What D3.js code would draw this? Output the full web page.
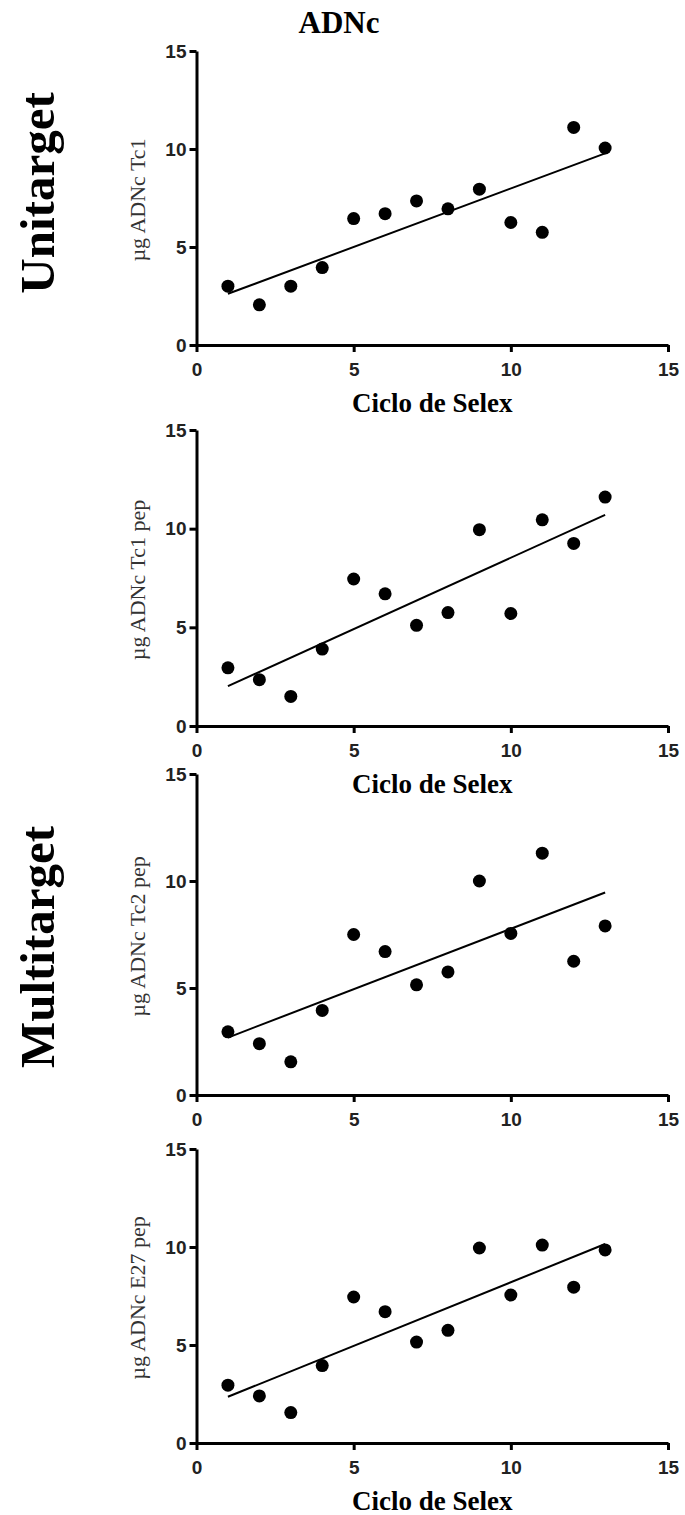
<!DOCTYPE html>
<html>
<head>
<meta charset="utf-8">
<script src="https://cdn.jsdelivr.net/npm/d3@7"></script>
<style>
  html, body { margin: 0; padding: 0; background: #fff; }
  svg { display: block; }
  .tick text { font-family: 'Liberation Sans', Arial, sans-serif; font-weight: bold; fill: #222; }
</style>
</head>
<body>
<svg id="chart" width="685" height="1515"></svg>
<script>
const CYCLES = [1, 2, 3, 4, 5, 6, 7, 8, 9, 10, 11, 12, 13]
const TC1 = [3.0, 2.05, 3.0, 3.95, 6.45, 6.7, 7.35, 6.95, 7.95, 6.25, 5.75, 11.1, 10.05]
const TC1_PEP = [2.95, 2.35, 1.5, 3.9, 7.45, 6.7, 5.1, 5.75, 9.95, 5.7, 10.45, 9.25, 11.6]
const TC2_PEP = [2.95, 2.4, 1.55, 3.95, 7.5, 6.7, 5.15, 5.75, 10.0, 7.55, 11.3, 6.25, 7.9]
const E27_PEP = [2.95, 2.4, 1.55, 3.95, 7.45, 6.7, 5.15, 5.75, 9.95, 7.55, 10.1, 7.95, 9.85]
const X_TICKS = [0, 5, 10, 15]
const Y_TICKS = [0, 5, 10, 15]
const Y_LABELS = ['µg ADNc Tc1', 'µg ADNc Tc1 pep', 'µg ADNc Tc2 pep', 'µg ADNc E27 pep']
const SERIES = [TC1, TC1_PEP, TC2_PEP, E27_PEP]

// vertical placement of each panel (top = 15, bottom = 0)
const PANEL_BOX = [
  { top: 51, bottom: 345, xlabel: true },
  { top: 430, bottom: 726, xlabel: true },
  { top: 774, bottom: 1095, xlabel: false },
  { top: 1149, bottom: 1443, xlabel: true }
]
const LEFT = 196.5
const RIGHT = 668

const svg = d3.select('#chart')

function fit (xs, ys) {
  const mx = d3.mean(xs)
  const my = d3.mean(ys)
  const sxy = d3.sum(xs, (x, i) => (x - mx) * (ys[i] - my))
  const sxx = d3.sum(xs, x => (x - mx) * (x - mx))
  const slope = sxy / sxx
  return x => my + slope * (x - mx)
}

function panel (values, box, ylabel) {
  const x = d3.scaleLinear().domain([0, 15]).range([LEFT, RIGHT])
  const y = d3.scaleLinear().domain([0, 15]).range([box.bottom, box.top])
  const g = svg.append('g')

  const yAxis = g.append('g')
    .attr('transform', `translate(${LEFT},0)`)
    .call(d3.axisLeft(y).tickValues(Y_TICKS).tickSize(7).tickSizeOuter(0).tickPadding(3))
  const xAxis = g.append('g')
    .attr('transform', `translate(0,${box.bottom})`)
    .call(d3.axisBottom(x).tickValues(X_TICKS).tickSize(7).tickSizeOuter(0).tickPadding(11))

  for (const ax of [yAxis, xAxis]) {
    ax.select('.domain').attr('stroke', '#000').attr('stroke-width', 3)
    ax.selectAll('.tick line').attr('stroke', '#000').attr('stroke-width', 3)
    ax.selectAll('.tick text').attr('font-size', 19)
  }

  const line = fit(CYCLES, values)
  g.append('line')
    .attr('x1', x(CYCLES[0])).attr('y1', y(line(CYCLES[0])))
    .attr('x2', x(CYCLES[CYCLES.length - 1])).attr('y2', y(line(CYCLES[CYCLES.length - 1])))
    .attr('stroke', '#000')
    .attr('stroke-width', 2)

  g.selectAll('circle')
    .data(values)
    .enter().append('circle')
    .attr('cx', (d, i) => x(CYCLES[i]))
    .attr('cy', d => y(d))
    .attr('r', 6.5)
    .attr('fill', '#000')

  g.append('text')
    .attr('transform', `translate(145,${(box.top + box.bottom) / 2 + 2}) rotate(-90)`)
    .attr('text-anchor', 'middle')
    .attr('font-family', "'Liberation Serif', 'Times New Roman', serif")
    .attr('font-size', 22)
    .attr('fill', '#333')
    .text(ylabel)

  if (box.xlabel) {
    g.append('text')
      .attr('x', (LEFT + RIGHT) / 2)
      .attr('y', box.bottom + 67)
      .attr('text-anchor', 'middle')
      .attr('font-family', "'Liberation Serif', 'Times New Roman', serif")
      .attr('font-weight', 'bold')
      .attr('font-size', 27)
      .text('Ciclo de Selex')
  }
}

SERIES.forEach((s, i) => panel(s, PANEL_BOX[i], Y_LABELS[i]))

svg.append('text')
  .attr('x', 339)
  .attr('y', 33)
  .attr('text-anchor', 'middle')
  .attr('font-family', "'Liberation Serif', 'Times New Roman', serif")
  .attr('font-weight', 'bold')
  .attr('font-size', 31)
  .text('ADNc')

const sideLabels = [
  { text: 'Unitarget', y: 193 },
  { text: 'Multitarget', y: 947 }
]
svg.selectAll('.side')
  .data(sideLabels)
  .enter().append('text')
  .attr('class', 'side')
  .attr('transform', d => `translate(54,${d.y}) rotate(-90)`)
  .attr('text-anchor', 'middle')
  .attr('font-family', "'Liberation Serif', 'Times New Roman', serif")
  .attr('font-weight', 'bold')
  .attr('font-size', 49)
  .text(d => d.text)
</script>
</body>
</html>
